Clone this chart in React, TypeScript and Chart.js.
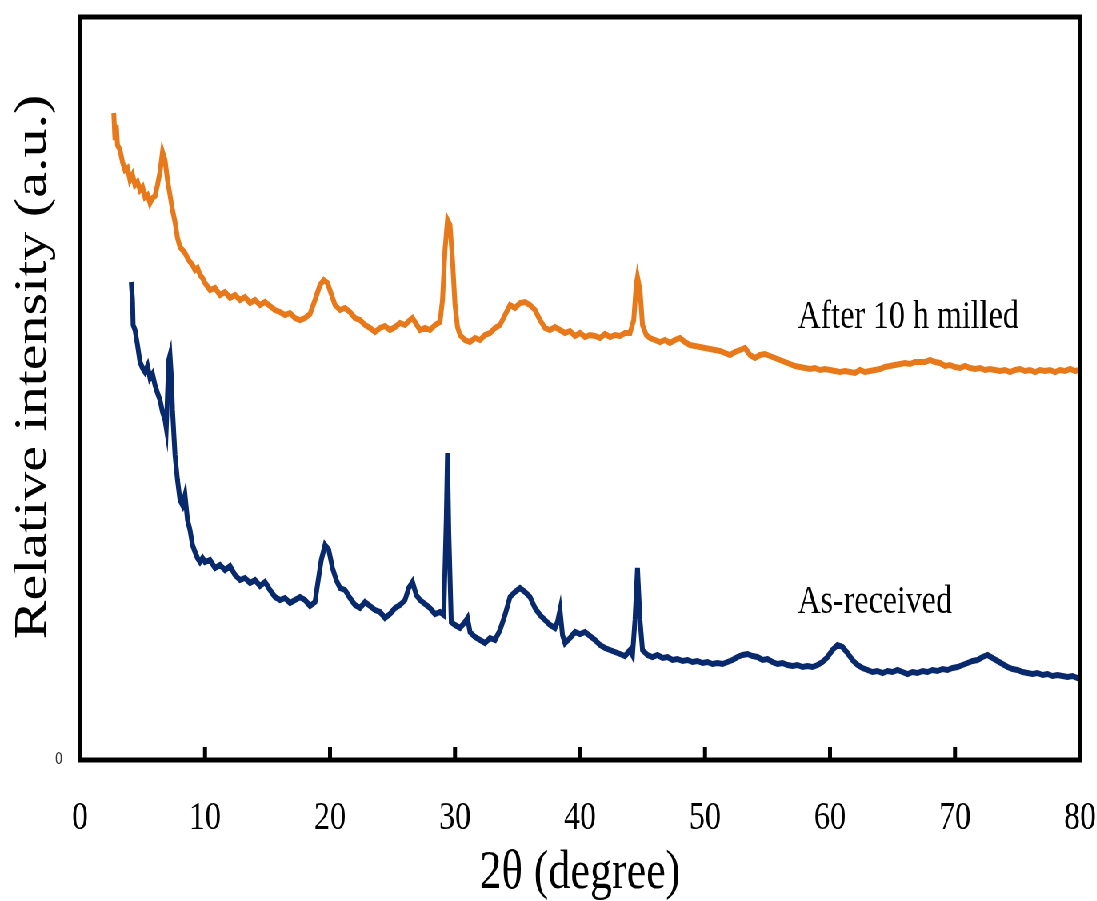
import React, { useEffect, useRef } from "react";
import { Chart, registerables } from "chart.js";

Chart.register(...registerables);

// ---------- data ----------
const X_TICKS = [0, 10, 20, 30, 40, 50, 60, 70, 80];
const X_TITLE = "2θ (degree)";
const Y_TITLE = "Relative intensity (a.u.)";
const SERIES_NAMES = ["After 10 h milled", "As-received"];
const LABEL_ANCHORS: [number, number][] = [
  [57.4, 432],
  [57.4, 147],
];
const Y_MAX = 743;

// [2θ, intensity]
const milled: [number, number][] = [
  [2.7, 647], [2.8, 620], [2.9, 635], [3.0, 615], [3.2, 610], [3.4, 598], [3.6, 590], [3.8, 592],
  [4.0, 580], [4.2, 585], [4.4, 575], [4.6, 578], [4.8, 570], [5.0, 573], [5.2, 563], [5.4, 565],
  [5.6, 557], [5.8, 562], [6.0, 564], [6.2, 575], [6.4, 588], [6.6, 608], [6.8, 600], [7.0, 580],
  [7.2, 565], [7.4, 550], [7.6, 538], [7.8, 522], [8.0, 513], [8.2, 510], [8.4, 507], [8.6, 502],
  [8.8, 498], [9.0, 495], [9.2, 490], [9.4, 492], [9.6, 485], [9.8, 482], [10.0, 477], [10.4, 470],
  [10.8, 472], [11.2, 465], [11.6, 468], [12.0, 462], [12.4, 465], [12.8, 460], [13.2, 463], [13.6, 457],
  [14.0, 460], [14.4, 455], [14.8, 458], [15.2, 454], [15.6, 450], [16.0, 448], [16.4, 445], [16.8, 447],
  [17.2, 442], [17.6, 440], [18.0, 442], [18.4, 446], [18.8, 460], [19.2, 475], [19.5, 480], [19.8, 477],
  [20.1, 466], [20.4, 455], [20.8, 450], [21.2, 452], [21.6, 448], [22.0, 442], [22.4, 440], [22.8, 435],
  [23.2, 432], [23.6, 428], [24.0, 432], [24.4, 434], [24.8, 430], [25.2, 433], [25.6, 437], [26.0, 435],
  [26.4, 440], [26.6, 442], [26.8, 438], [27.2, 430], [27.6, 432], [28.0, 430], [28.4, 435], [28.8, 438],
  [29.0, 460], [29.2, 510], [29.4, 540], [29.6, 535], [29.8, 500], [30.0, 455], [30.2, 433], [30.4, 425],
  [30.8, 420], [31.2, 418], [31.6, 422], [32.0, 420], [32.4, 425], [32.8, 427], [33.2, 432], [33.6, 435],
  [34.0, 445], [34.4, 455], [34.8, 452], [35.2, 457], [35.6, 458], [36.0, 455], [36.4, 450], [36.8, 440],
  [37.2, 432], [37.6, 430], [38.0, 433], [38.4, 430], [38.8, 427], [39.2, 429], [39.6, 424], [40.0, 427],
  [40.4, 423], [40.8, 425], [41.2, 424], [41.6, 422], [42.0, 426], [42.4, 423], [42.8, 425], [43.2, 424],
  [43.6, 427], [44.0, 427], [44.3, 440], [44.5, 475], [44.6, 483], [44.8, 470], [45.0, 435], [45.3, 425],
  [45.6, 422], [46.0, 420], [46.4, 418], [46.8, 420], [47.2, 417], [47.6, 420], [48.0, 422], [48.4, 418],
  [48.8, 415], [49.2, 414], [49.6, 413], [50.0, 412], [50.4, 411], [50.8, 410], [51.2, 409], [51.6, 407],
  [52.0, 405], [52.4, 408], [52.8, 410], [53.2, 412], [53.6, 405], [54.0, 402], [54.4, 405], [54.8, 406],
  [55.2, 404], [55.6, 402], [56.0, 400], [56.4, 398], [56.8, 396], [57.2, 394], [57.6, 393], [58.0, 392],
  [58.4, 391], [58.8, 392], [59.2, 390], [59.6, 391], [60.0, 390], [60.4, 389], [60.8, 388], [61.2, 389],
  [61.6, 388], [62.0, 387], [62.4, 390], [62.8, 388], [63.2, 389], [63.6, 390], [64.0, 391], [64.4, 393],
  [64.8, 394], [65.2, 395], [65.6, 396], [66.0, 397], [66.4, 396], [66.8, 398], [67.2, 398], [67.6, 398],
  [68.0, 400], [68.4, 398], [68.8, 397], [69.2, 394], [69.6, 395], [70.0, 393], [70.4, 392], [70.8, 394],
  [71.2, 392], [71.6, 391], [72.0, 392], [72.4, 390], [72.8, 391], [73.2, 390], [73.6, 389], [74.0, 390],
  [74.4, 388], [74.8, 390], [75.2, 391], [75.6, 389], [76.0, 390], [76.4, 388], [76.8, 390], [77.2, 389],
  [77.6, 390], [78.0, 388], [78.4, 390], [78.8, 389], [79.2, 391], [79.6, 389], [80.0, 390],
];

const asReceived: [number, number][] = [
  [4.1, 478], [4.2, 460], [4.25, 435], [4.4, 430], [4.6, 415], [4.8, 398], [5.0, 392], [5.2, 388],
  [5.4, 394], [5.6, 382], [5.8, 386], [6.0, 375], [6.2, 367], [6.4, 360], [6.6, 348], [6.8, 340],
  [6.9, 332], [7.0, 365], [7.1, 400], [7.2, 405], [7.3, 385], [7.4, 350], [7.6, 305], [7.8, 280],
  [8.0, 260], [8.2, 255], [8.4, 265], [8.6, 240], [8.8, 230], [9.0, 215], [9.2, 208], [9.4, 202],
  [9.6, 198], [9.8, 202], [10.0, 198], [10.4, 200], [10.8, 192], [11.2, 195], [11.6, 190], [12.0, 194],
  [12.4, 185], [12.8, 180], [13.2, 182], [13.6, 177], [14.0, 180], [14.4, 174], [14.8, 178], [15.2, 170],
  [15.6, 163], [16.0, 160], [16.4, 162], [16.8, 157], [17.2, 160], [17.6, 163], [18.0, 160], [18.4, 154],
  [18.8, 158], [19.0, 175], [19.3, 200], [19.6, 215], [19.9, 210], [20.2, 192], [20.5, 180], [20.8, 172],
  [21.2, 170], [21.6, 162], [22.0, 155], [22.4, 152], [22.8, 158], [23.2, 154], [23.6, 150], [24.0, 148],
  [24.4, 142], [24.8, 146], [25.2, 152], [25.6, 155], [26.0, 160], [26.3, 172], [26.6, 178], [26.9, 165],
  [27.2, 160], [27.6, 156], [28.0, 152], [28.4, 146], [28.8, 148], [29.1, 145], [29.3, 240], [29.4, 307],
  [29.5, 230], [29.7, 138], [30.0, 135], [30.4, 132], [30.8, 138], [31.0, 142], [31.2, 128], [31.6, 123],
  [32.0, 120], [32.4, 117], [32.8, 122], [33.2, 120], [33.6, 130], [34.0, 145], [34.4, 163], [34.8, 168],
  [35.2, 172], [35.6, 168], [36.0, 163], [36.4, 152], [36.8, 145], [37.2, 140], [37.6, 135], [38.0, 132],
  [38.2, 138], [38.4, 150], [38.6, 125], [38.8, 117], [39.2, 122], [39.6, 128], [40.0, 126], [40.4, 128],
  [40.8, 124], [41.2, 120], [41.6, 115], [42.0, 112], [42.4, 110], [42.8, 108], [43.2, 106], [43.6, 104],
  [44.0, 110], [44.2, 105], [44.4, 140], [44.6, 192], [44.8, 140], [45.0, 110], [45.4, 105], [45.8, 103],
  [46.2, 105], [46.6, 102], [47.0, 103], [47.4, 100], [47.8, 101], [48.2, 99], [48.6, 100], [49.0, 98],
  [49.4, 99], [49.8, 97], [50.2, 98], [50.6, 96], [51.0, 97], [51.4, 96], [51.8, 98], [52.2, 100],
  [52.6, 103], [53.0, 105], [53.4, 106], [53.8, 104], [54.2, 103], [54.6, 100], [55.0, 101], [55.4, 98],
  [55.8, 96], [56.2, 97], [56.6, 95], [57.0, 94], [57.4, 95], [57.8, 93], [58.2, 94], [58.6, 93],
  [59.0, 95], [59.4, 98], [59.8, 103], [60.2, 110], [60.6, 115], [61.0, 113], [61.4, 107], [61.8, 100],
  [62.2, 95], [62.6, 92], [63.0, 90], [63.4, 88], [63.8, 89], [64.2, 87], [64.6, 89], [65.0, 88],
  [65.4, 90], [65.8, 88], [66.2, 86], [66.6, 88], [67.0, 87], [67.4, 89], [67.8, 88], [68.2, 90],
  [68.6, 89], [69.0, 91], [69.4, 90], [69.8, 92], [70.2, 93], [70.6, 95], [71.0, 97], [71.4, 99],
  [71.8, 100], [72.2, 103], [72.6, 105], [73.0, 102], [73.4, 99], [73.8, 96], [74.2, 93], [74.6, 91],
  [75.0, 90], [75.4, 88], [75.8, 87], [76.2, 86], [76.6, 87], [77.0, 85], [77.4, 86], [77.8, 84],
  [78.2, 85], [78.6, 84], [79.0, 83], [79.4, 84], [79.8, 82], [80.0, 83],
];

// ---------- layout / style ----------
const SX = 0.8; // horizontal condensation of the figure
const W = 1371;
const H = 901;
const SERIF = '"Liberation Serif", "Times New Roman", serif';
const ORANGE = "#E8791A";
const NAVY = "#08296C";

const framePlugin = {
  id: "frameAndLabels",
  afterDatasetsDraw(chart: any) {
    const { ctx, chartArea: a, scales } = chart;
    ctx.save();
    ctx.strokeStyle = "#000";
    ctx.lineWidth = 5;
    ctx.strokeRect(a.left, a.top, a.right - a.left, a.bottom - a.top);
    for (const t of X_TICKS) {
      if (t === X_TICKS[0] || t === X_TICKS[X_TICKS.length - 1]) continue;
      const px = scales.x.getPixelForValue(t);
      ctx.beginPath();
      ctx.moveTo(px, a.bottom);
      ctx.lineTo(px, a.bottom - 13);
      ctx.stroke();
    }
    ctx.fillStyle = "#000";
    ctx.font = `40px ${SERIF}`;
    ctx.textAlign = "left";
    ctx.textBaseline = "alphabetic";
    SERIES_NAMES.forEach((s, i) => {
      ctx.fillText(
        s,
        scales.x.getPixelForValue(LABEL_ANCHORS[i][0]),
        scales.y.getPixelForValue(LABEL_ANCHORS[i][1])
      );
    });
    ctx.translate(42, 367);
    ctx.rotate(-Math.PI / 2);
    ctx.textAlign = "center";
    ctx.textBaseline = "middle";
    ctx.font = `58px ${SERIF}`;
    ctx.fillText(Y_TITLE, 0, 0);
    ctx.restore();
  },
};

export default function App() {
  const ref = useRef<HTMLCanvasElement>(null);
  useEffect(() => {
    if (!ref.current) return;
    const chart = new Chart(ref.current, {
      type: "line",
      data: {
        datasets: [
          {
            label: SERIES_NAMES[0],
            data: milled.map(([x, y]) => ({ x, y })),
            borderColor: ORANGE,
            borderWidth: 6,
            pointRadius: 0,
            tension: 0,
          },
          {
            label: SERIES_NAMES[1],
            data: asReceived.map(([x, y]) => ({ x, y })),
            borderColor: NAVY,
            borderWidth: 6,
            pointRadius: 0,
            tension: 0,
          },
        ],
      },
      options: {
        responsive: false,
        animation: false,
        devicePixelRatio: 1,
        layout: { padding: { top: 17, right: 21, left: 0, bottom: 0 } },
        plugins: { legend: { display: false }, tooltip: { enabled: false } },
        scales: {
          x: {
            type: "linear",
            min: 0,
            max: 80,
            grid: { display: false, drawTicks: false },
            border: { display: false },
            ticks: {
              stepSize: 10,
              padding: 34,
              color: "#000",
              font: { family: SERIF, size: 40 },
              maxRotation: 0,
            },
            title: {
              display: true,
              text: X_TITLE,
              color: "#000",
              font: { family: SERIF, size: 55, lineHeight: 1 },
              padding: { top: 0, bottom: 0 },
            },
            afterFit: (s: any) => {
              s.height = 141;
              s.paddingLeft = 0;
              s.paddingRight = 0;
            },
          },
          y: {
            type: "linear",
            min: 0,
            max: Y_MAX,
            grid: { display: false, drawTicks: false },
            border: { display: false },
            ticks: {
              stepSize: Y_MAX,
              padding: 22,
              color: "#333",
              font: { family: '"Liberation Sans", Arial, sans-serif', size: 16 },
              callback: (v: any) => (v === 0 ? "0" : ""),
            },
            afterFit: (s: any) => {
              s.width = 100;
              s.paddingTop = 0;
              s.paddingBottom = 0;
            },
          },
        },
      },
      plugins: [framePlugin],
    });
    return () => chart.destroy();
  }, []);
  return (
    <div
      style={{
        position: "fixed",
        left: 0,
        top: 0,
        width: W,
        height: H,
        background: "#fff",
        transform: `scaleX(${SX})`,
        transformOrigin: "0 0",
      }}
    >
      <canvas ref={ref} width={W} height={H} style={{ display: "block", width: W, height: H }} />
    </div>
  );
}
